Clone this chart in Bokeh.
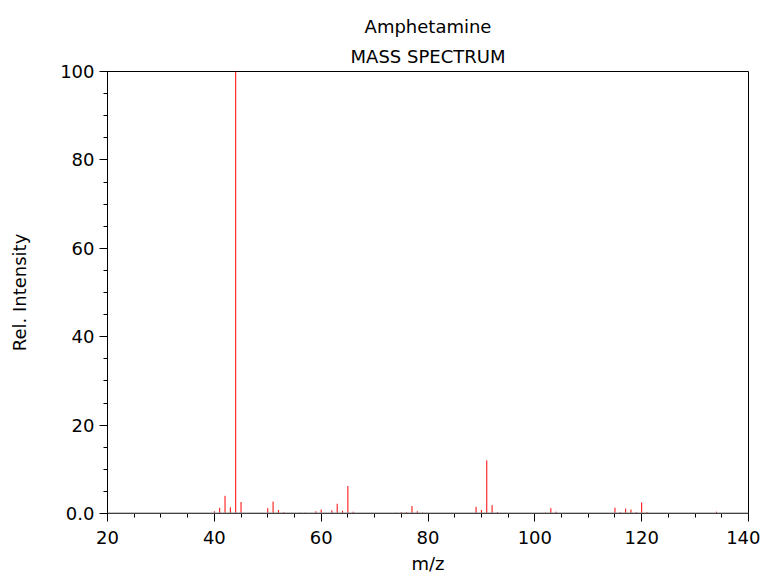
from bokeh.plotting import figure
from bokeh.models import Title, Range1d, FixedTicker, Span
from bokeh.embed import file_html
from bokeh.resources import INLINE

compound = "Amphetamine"
subtitle = "MASS SPECTRUM"
x_label = "m/z"
y_label = "Rel. Intensity"

mz = [40, 41, 42, 43, 44, 45, 50, 51, 52, 53, 56, 57, 59, 60, 62, 63, 64, 65, 66,
      74, 75, 76, 77, 78, 79, 86, 87, 89, 90, 91, 92, 93,
      102, 103, 104, 105, 115, 116, 117, 118, 119, 120, 121, 130, 132, 133, 134]
intensity = [0.5, 1.3, 4.0, 1.4, 100.0, 2.6, 1.2, 2.7, 0.8, 0.3, 0.2, 0.2, 0.5, 0.9, 0.7, 2.2, 0.6, 6.2, 0.4,
             0.2, 0.3, 0.3, 1.7, 0.5, 0.2, 0.1, 0.1, 1.5, 0.8, 12.0, 1.9, 0.3,
             0.2, 1.2, 0.4, 0.1, 1.3, 0.3, 1.1, 0.9, 0.3, 2.5, 0.3, 0.1, 0.1, 0.1, 0.4]

x_ticks = [20, 40, 60, 80, 100, 120, 140]
y_ticks = [0, 20, 40, 60, 80, 100]
y_tick_labels = {0: "0.0", 20: "20", 40: "40", 60: "60", 80: "80", 100: "100"}

FONT = "DejaVu Sans"

p = figure(frame_width=641, frame_height=442, output_backend="svg", toolbar_location=None,
           x_range=Range1d(20, 140), y_range=Range1d(0, 100),
           min_border_left=107, min_border_right=12, min_border_bottom=51, min_border_top=71)

p.add_layout(Span(location=0, dimension="width", line_color="#888888", line_width=2))
p.segment(x0=mz, y0=[0] * len(mz), x1=mz, y1=intensity, line_color="red", line_width=1)

p.grid.visible = False
p.outline_line_color = "black"
p.outline_line_width = 1
p.background_fill_color = "white"

t2 = Title(text=subtitle, align="center", text_font=FONT, text_font_size="18px",
           text_font_style="normal", text_color="black", standoff=10)
t1 = Title(text=compound, align="center", text_font=FONT, text_font_size="18px",
           text_font_style="normal", text_color="black", standoff=4)
p.add_layout(t2, "above")
p.add_layout(t1, "above")

for ax in (p.xaxis[0], p.yaxis[0]):
    ax.axis_line_color = "black"
    ax.major_tick_line_color = "black"
    ax.minor_tick_line_color = "black"
    ax.major_tick_out = 8
    ax.major_tick_in = 0
    ax.minor_tick_out = 4
    ax.minor_tick_in = 0
    ax.major_label_text_font = FONT
    ax.major_label_text_font_size = "18px"
    ax.major_label_text_color = "black"
    ax.axis_label_text_font = FONT
    ax.axis_label_text_font_size = "18px"
    ax.axis_label_text_font_style = "normal"
    ax.axis_label_text_color = "black"

p.xaxis[0].major_label_standoff = 9
p.yaxis[0].major_label_standoff = 5
p.xaxis[0].ticker = FixedTicker(ticks=x_ticks, minor_ticks=[v for v in range(20, 141, 5)])
p.yaxis[0].ticker = FixedTicker(ticks=y_ticks, minor_ticks=[v for v in range(0, 101, 5)])
p.yaxis[0].major_label_overrides = y_tick_labels
p.xaxis[0].axis_label = x_label
p.yaxis[0].axis_label = y_label
p.xaxis[0].axis_label_standoff = 6
p.yaxis[0].axis_label_standoff = 27

open("out.html", "w").write(file_html(p, INLINE))
